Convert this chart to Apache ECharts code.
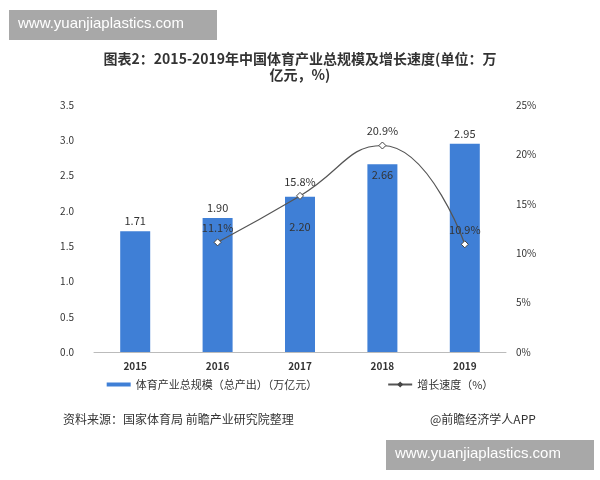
<!DOCTYPE html><html><head><meta charset="utf-8"><script src="https://cdn.jsdelivr.net/npm/echarts@6/dist/echarts.min.js"></script></head><body style="margin:0"><div id="c" style="width:600px;height:480px"></div><script>
const years=['2015','2016','2017','2018','2019'];
const scale=[1.71,1.90,2.20,2.66,2.95];
const growth=[null,11.1,15.8,20.9,10.9];
const ch=echarts.init(document.getElementById('c'));
const f='"Noto Sans CJK SC"';
ch.setOption({
textStyle:{fontFamily:f},
title:{text:'图表2：2015-2019年中国体育产业总规模及增长速度(单位：万\n亿元，%)',left:'center',top:46,textStyle:{fontSize:14,fontWeight:'bold',color:'#333',lineHeight:16,fontFamily:f}},
grid:{left:94,right:94,top:105,bottom:128},
legend:{bottom:85,left:'center',itemGap:70,textStyle:{fontSize:11,color:'#333'},data:[{name:'体育产业总规模（总产出）（万亿元）',icon:'rect',itemStyle:{color:'#3f7fd6'}},{name:'增长速度（%）'}],itemWidth:24,itemHeight:4},
xAxis:{type:'category',data:years,axisTick:{show:false},axisLine:{lineStyle:{color:'#bbb'}},axisLabel:{color:'#333',fontSize:10,fontWeight:'bold',margin:9}},
yAxis:[{min:0,max:3.5,interval:0.5,axisLabel:{formatter:v=>v.toFixed(1),color:'#333',fontSize:10,margin:20},splitLine:{show:false},axisLine:{show:false}},
{min:0,max:25,interval:5,axisLabel:{formatter:'{value}%',color:'#333',fontSize:10,margin:10},splitLine:{show:false},axisLine:{show:false}}],
series:[{name:'体育产业总规模（总产出）（万亿元）',type:'bar',barWidth:30,itemStyle:{color:'#3f7fd6'},
data:scale.map((v,i)=>({value:v,label:{position:i==2?'insideTop':(i==3?'insideTop':'top'),offset:i==2?[0,20]:[0,0]}})),
label:{show:true,formatter:p=>p.value.toFixed(2),color:'#333',fontSize:11}},
{name:'增长速度（%）',type:'line',yAxisIndex:1,smooth:true,data:growth,symbol:'diamond',symbolSize:7,itemStyle:{color:'#fff',borderColor:'#444',borderWidth:1},lineStyle:{color:'#555',width:1.2},
label:{show:true,position:'top',formatter:p=>p.value+'%',color:'#333',fontSize:11}}],
graphic:[{type:'rect',shape:{x:9,y:10,width:208,height:30},style:{fill:'#a8a8a8'}},
{type:'text',x:18,y:16,style:{text:'www.yuanjiaplastics.com',fill:'#fff',font:'15px Arial'}},
{type:'rect',shape:{x:386,y:440,width:208,height:30},style:{fill:'#a8a8a8'}},
{type:'text',x:395,y:446,style:{text:'www.yuanjiaplastics.com',fill:'#fff',font:'15px Arial'}},
{type:'text',x:63,y:413,style:{text:'资料来源：国家体育局 前瞻产业研究院整理',fill:'#333',font:'12px "Noto Sans CJK SC"'}},
{type:'text',x:430,y:413,style:{text:'@前瞻经济学人APP',fill:'#333',font:'12px "Noto Sans CJK SC"'}}]
});
</script></body></html>
